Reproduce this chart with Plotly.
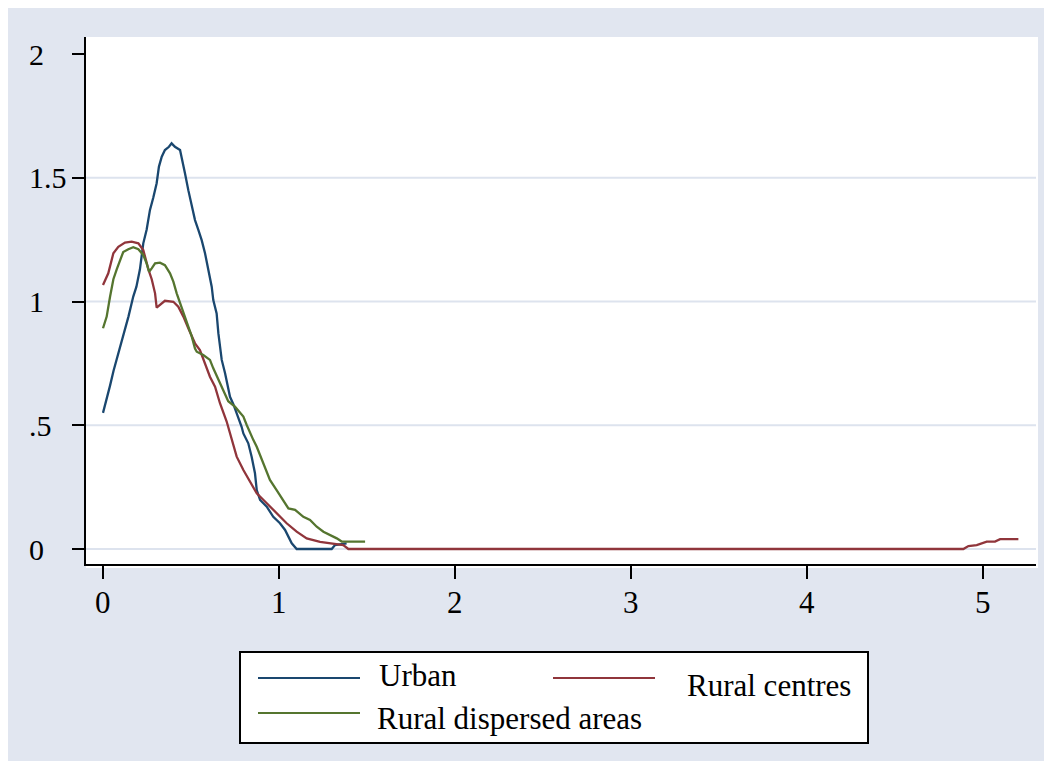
import plotly.graph_objects as go

# ---------------- data ----------------
series_names = ["Urban", "Rural centres", "Rural dispersed areas"]
series_colors = ["#1A476F", "#90353B", "#55752F"]

urban_x = [0.00, 0.02, 0.04, 0.06, 0.08, 0.10, 0.125, 0.145, 0.172, 0.19, 0.21, 0.229, 0.248,
           0.267, 0.286, 0.305, 0.318, 0.334, 0.352, 0.375, 0.39, 0.409, 0.438, 0.451, 0.466,
           0.485, 0.504, 0.523, 0.542, 0.561, 0.58, 0.599, 0.618, 0.627, 0.646, 0.656, 0.675,
           0.694, 0.712, 0.722, 0.741, 0.769, 0.788, 0.798, 0.826, 0.845, 0.864, 0.874, 0.893,
           0.931, 0.968, 1.006, 1.035, 1.054, 1.073, 1.101, 1.30, 1.319, 1.385]
urban_y = [0.55, 0.60, 0.66, 0.72, 0.77, 0.82, 0.89, 0.94, 1.02, 1.06, 1.13, 1.235, 1.29,
           1.37, 1.42, 1.478, 1.545, 1.585, 1.612, 1.625, 1.639, 1.625, 1.612, 1.572, 1.518,
           1.45, 1.383, 1.329, 1.289, 1.248, 1.195, 1.127, 1.06, 1.006, 0.952, 0.871, 0.764,
           0.71, 0.656, 0.615, 0.585, 0.535, 0.494, 0.467, 0.427, 0.373, 0.306, 0.238, 0.198,
           0.171, 0.13, 0.104, 0.077, 0.05, 0.023, 0.0, 0.0, 0.016, 0.023]

centres_x = [0.0, 0.03, 0.059, 0.087, 0.125, 0.163, 0.201, 0.229, 0.258, 0.277, 0.296, 0.305,
             0.352, 0.40, 0.428, 0.457, 0.485, 0.523, 0.551, 0.58, 0.608, 0.637, 0.665, 0.703,
             0.732, 0.76, 0.798, 0.836, 0.874, 0.931, 0.987, 1.044, 1.101, 1.158, 1.234, 1.309,
             1.366, 1.395, 4.891, 4.92, 4.967, 5.024, 5.071, 5.1, 5.204]
centres_y = [1.067, 1.114, 1.195, 1.221, 1.238, 1.242, 1.235, 1.208, 1.13, 1.09, 1.033, 0.975,
             1.003, 0.999, 0.979, 0.939, 0.892, 0.831, 0.804, 0.75, 0.696, 0.656, 0.589, 0.515,
             0.44, 0.373, 0.319, 0.272, 0.225, 0.185, 0.144, 0.104, 0.07, 0.043, 0.029, 0.023,
             0.016, 0.0, 0.0, 0.012, 0.016, 0.03, 0.03, 0.04, 0.04]

dispersed_x = [0.0, 0.021, 0.04, 0.059, 0.078, 0.097, 0.115, 0.144, 0.172, 0.201, 0.229, 0.248,
               0.262, 0.277, 0.296, 0.324, 0.352, 0.381, 0.40, 0.419, 0.438, 0.466, 0.504, 0.523,
               0.533, 0.57, 0.608, 0.627, 0.656, 0.684, 0.712, 0.75, 0.779, 0.798, 0.817, 0.836,
               0.855, 0.874, 0.911, 0.949, 0.987, 1.025, 1.054, 1.092, 1.139, 1.177, 1.215, 1.253,
               1.29, 1.329, 1.357, 1.49]
dispersed_y = [0.892, 0.939, 1.019, 1.09, 1.13, 1.168, 1.20, 1.211, 1.219, 1.211, 1.188, 1.154,
               1.12, 1.134, 1.154, 1.157, 1.147, 1.114, 1.08, 1.033, 0.995, 0.932, 0.86, 0.81,
               0.797, 0.784, 0.764, 0.73, 0.683, 0.642, 0.597, 0.575, 0.548, 0.535, 0.501, 0.467,
               0.44, 0.413, 0.346, 0.279, 0.238, 0.198, 0.164, 0.158, 0.13, 0.117, 0.09, 0.07,
               0.057, 0.043, 0.03, 0.03]

x_ticks = [0, 1, 2, 3, 4, 5]
x_tick_labels = ["0", "1", "2", "3", "4", "5"]
y_ticks = [0, 0.5, 1, 1.5, 2]
y_tick_labels = ["0", ".5", "1", "1.5", "2"]
y_grid = [0, 0.5, 1, 1.5]

# ---------------- layout geometry (pixels, page coordinates) ----------------
OFF = 8                      # page body margin
W, H = 1036, 753             # figure size
PL, PR, PT, PB = 86, 1036, 37, 564   # plot area in page pixels
FONT = "Liberation Serif"
BG = "#E1E6F0"
GRID = "#DDE3EE"


def px_x(p):
    return (p - PL) / (PR - PL)


def px_y(p):
    return (PB - p) / (PB - PT)


fig = go.Figure()
for xs, ys, name, col in zip([urban_x, centres_x, dispersed_x],
                             [urban_y, centres_y, dispersed_y],
                             series_names, series_colors):
    fig.add_trace(go.Scatter(x=xs, y=ys, mode="lines", name=name,
                             line=dict(color=col, width=2.3), showlegend=False))

shapes = []
# white plot region (extends slightly below the x axis line)
shapes.append(dict(type="rect", xref="paper", yref="paper", layer="below",
                   x0=px_x(86), x1=px_x(1038), y0=px_y(568), y1=px_y(37),
                   fillcolor="white", line=dict(width=0)))
# gridlines
for g in y_grid:
    shapes.append(dict(type="line", xref="paper", yref="y", layer="below",
                       x0=0, x1=px_x(1036), y0=g, y1=g,
                       line=dict(color=GRID, width=2)))

# custom legend
LX0, LX1, LY0, LY1 = 240, 868, 652, 743
shapes.append(dict(type="rect", xref="paper", yref="paper", layer="above",
                   x0=px_x(LX0), x1=px_x(LX1), y0=px_y(LY1), y1=px_y(LY0),
                   fillcolor="white", line=dict(color="black", width=2)))
legend_lines = [(258, 360, 678), (553, 655, 678), (258, 360, 713)]
legend_text = [(377, 675), (685, 685), (375, 718)]
annotations = []
for (x0, x1, yy), (tx, ty), name, col in zip(legend_lines, legend_text, series_names, series_colors):
    shapes.append(dict(type="line", xref="paper", yref="paper", layer="above",
                       x0=px_x(x0), x1=px_x(x1), y0=px_y(yy), y1=px_y(yy),
                       line=dict(color=col, width=2)))
    annotations.append(dict(text=name, xref="paper", yref="paper", x=px_x(tx), y=px_y(ty),
                            xanchor="left", yanchor="middle", showarrow=False,
                            font=dict(family=FONT, size=31, color="black")))

# y tick labels (left aligned like the reference)
for v, lab in zip(y_ticks, y_tick_labels):
    annotations.append(dict(text=lab, xref="paper", yref="y", x=px_x(27), y=v,
                            xanchor="left", yanchor="middle", showarrow=False,
                            font=dict(family=FONT, size=30, color="black")))

# x tick labels
for v, lab in zip(x_ticks, x_tick_labels):
    annotations.append(dict(text=lab, xref="x", yref="paper", x=v, y=px_y(602),
                            xanchor="center", yanchor="middle", showarrow=False,
                            font=dict(family=FONT, size=31, color="black")))

x_range = [(PL - 103) / 175.9, (PR - 103) / 175.9]
y_range = [(549 - PB) / 247.5, (549 - PT) / 247.5]

fig.update_layout(
    width=W, height=H,
    margin=dict(l=PL - OFF, r=(OFF + W) - PR, t=PT - OFF, b=(OFF + H) - PB, pad=0),
    paper_bgcolor=BG, plot_bgcolor="white",
    shapes=shapes, annotations=annotations,
    showlegend=False,
    xaxis=dict(range=x_range, tickvals=x_ticks, showticklabels=False,
               showgrid=False, zeroline=False, showline=True, linecolor="black", linewidth=2,
               ticks="outside", ticklen=13, tickwidth=2, tickcolor="black"),
    yaxis=dict(range=y_range, tickvals=y_ticks, showticklabels=False,
               showgrid=False, zeroline=False, showline=True, linecolor="black", linewidth=2,
               ticks="outside", ticklen=12, tickwidth=2, tickcolor="black"),
)

fig.write_html("out.html")
